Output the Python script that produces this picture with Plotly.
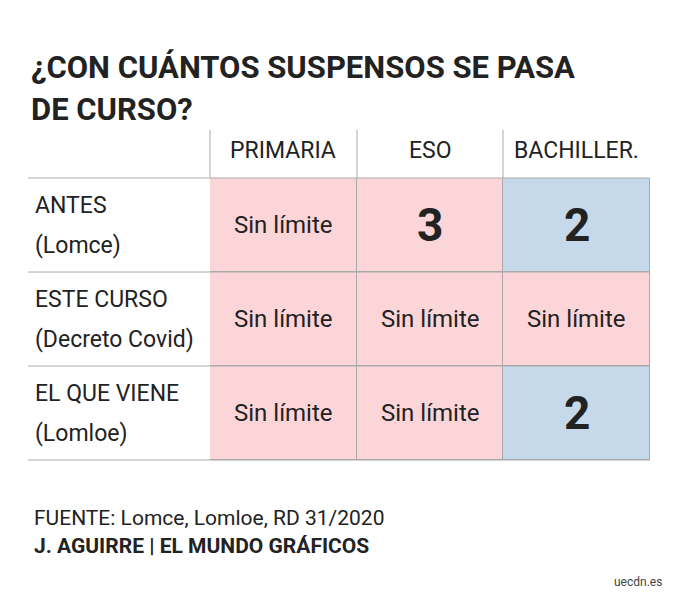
import plotly.graph_objects as go

# data
columns = ["PRIMARIA", "ESO", "BACHILLER."]
rows = ["ANTES<br>(Lomce)", "ESTE CURSO<br>(Decreto Covid)", "EL QUE VIENE<br>(Lomloe)"]
limits = [["Sin límite", "3", "2"],
          ["Sin límite", "Sin límite", "Sin límite"],
          ["Sin límite", "Sin límite", "2"]]

FONT = "Liberation Sans Narrow, Roboto, sans-serif"
pink, blue = "#fcd5d8", "#c6d9ea"
W, H, OFF = 677, 600, 8  # page body has an 8px margin


def px(x):
    return (x - OFF) / W


def py(y):
    return 1 - (y - OFF) / H


# blue where the limit is 2 suspensos
z = [[1 if v == "2" else 0 for v in r] for r in limits]

fig = go.Figure(go.Heatmap(
    x=columns, y=rows, z=z, zmin=0, zmax=1,
    colorscale=[[0, pink], [1, blue]], showscale=False,
    xgap=1, ygap=1, hoverinfo="skip",
))

# cell texts
for i, r in enumerate(rows):
    for j, c in enumerate(columns):
        v = limits[i][j]
        big = v != "Sin límite"
        fig.add_annotation(x=c, y=r, text=f"<b>{v}</b>" if big else v, showarrow=False,
                           font=dict(family=FONT, size=46 if big else 24, color="#222"))
    # row label, two lines spaced like the original
    for k, part in enumerate(r.split("<br>")):
        fig.add_annotation(x=px(33), xref="paper", y=r, yref="y", text=part, showarrow=False,
                           xanchor="left", yanchor="middle", yshift=20 - 40 * k,
                           font=dict(family=FONT, size=23, color="#222"))

for c in columns:
    fig.add_annotation(x=c, y=py(151), yref="paper", text=c, showarrow=False,
                       xanchor="center", yanchor="middle",
                       font=dict(family=FONT, size=23, color="#222"))

# table rules
line = dict(color="#aaaaaa", width=1)
for yp in [178, 272, 366, 460]:
    fig.add_shape(type="line", xref="paper", yref="paper", x0=px(28), x1=px(650),
                  y0=py(yp), y1=py(yp), line=line)
for xp in [210, 357, 503]:
    fig.add_shape(type="line", xref="paper", yref="paper", x0=px(xp), x1=px(xp),
                  y0=py(130), y1=py(178), line=line)

texts = [
    (29, 68, "<b>¿CON CUÁNTOS SUSPENSOS SE PASA</b>", 31),
    (29, 109, "<b>DE CURSO?</b>", 31),
    (32, 518, "FUENTE: Lomce, Lomloe, RD 31/2020", 21),
    (32, 546, "<b>J. AGUIRRE | EL MUNDO GRÁFICOS</b>", 21),
]
for xp, yp, t, s in texts:
    fig.add_annotation(x=px(xp), y=py(yp), xref="paper", yref="paper", text=t,
                       showarrow=False, xanchor="left", yanchor="middle",
                       font=dict(family=FONT, size=s, color="#222"))
fig.add_annotation(x=px(664), y=py(582), xref="paper", yref="paper", text="uecdn.es",
                   showarrow=False, xanchor="right", yanchor="middle",
                   font=dict(family=FONT, size=12, color="#444"))

fig.update_xaxes(domain=[px(210), px(650)], showticklabels=False, showgrid=False, zeroline=False)
fig.update_yaxes(domain=[py(460), py(178)], autorange="reversed",
                 showticklabels=False, showgrid=False, zeroline=False)
fig.update_layout(width=W, height=H, margin=dict(l=0, r=0, t=0, b=0),
                  paper_bgcolor="white", plot_bgcolor="#aaaaaa")
fig.write_html("out.html")
